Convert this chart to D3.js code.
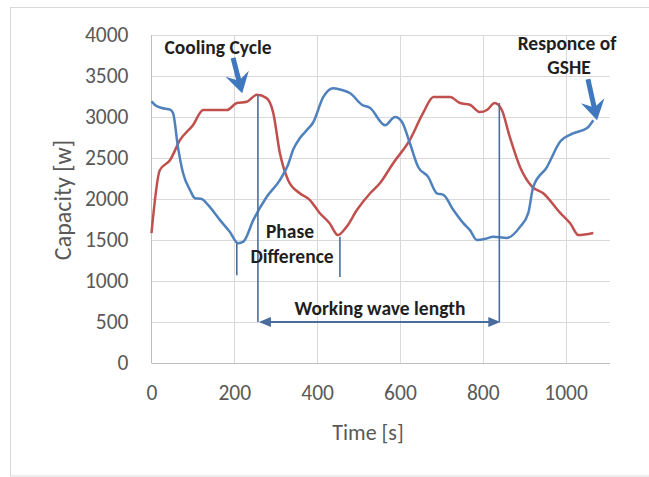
<!DOCTYPE html>
<html><head><meta charset="utf-8">
<script src="https://cdn.jsdelivr.net/npm/d3@7"></script>
<style>
html,body{margin:0;padding:0;background:#fff;}
text{font-family:Carlito,Lato,"Liberation Sans",sans-serif;}
</style></head>
<body><svg id="c" width="649" height="477"></svg>
<script>
// ---- data ----
const blueT = [0,10,25,45,52,64,76,93,105,121,137,165,189,209,222,246,278,310,330,342,358,375,390,415,439,460,480,508,528,564,588,605,624,644,668,689,705,729,753,769,786,810,825,858,890,910,922,955,987,1018,1052,1067];
const blueV = [3190,3140,3110,3090,3050,2630,2320,2110,2010,2000,1925,1745,1600,1460,1480,1745,2025,2230,2420,2600,2740,2840,2930,3245,3350,3330,3290,3150,3110,2900,3000,2940,2680,2390,2270,2070,2050,1865,1705,1620,1500,1520,1540,1525,1660,1830,2150,2390,2700,2800,2865,2960];
const redT = [0,20,45,69,100,125,182,206,230,254,278,294,310,330,358,382,406,430,450,471,496,528,552,584,624,656,681,721,745,769,793,810,829,846,865,890,919,946,987,1011,1031,1067];
const redV = [1585,2350,2475,2720,2900,3085,3085,3170,3185,3270,3230,3050,2560,2230,2070,1990,1830,1705,1560,1660,1865,2070,2195,2440,2720,3050,3245,3245,3170,3150,3060,3085,3170,3085,2760,2390,2150,2070,1830,1705,1560,1585];
const xTicks = [0,200,400,600,800,1000];
const yTicks = [0,500,1000,1500,2000,2500,3000,3500,4000];
const xTitle = "Time [s]";
const yTitle = "Capacity [w]";

const svg = d3.select("#c");
svg.append("rect").attr("x",10.5).attr("y",7.5).attr("width",640).attr("height",468.5)
  .attr("fill","#fff").attr("stroke","#d9d9d9");

const x = d3.scaleLinear([0,1100],[151.5,607]);
const y = d3.scaleLinear([0,4000],[363,35]);

// gridlines
svg.append("g").selectAll("line").data(yTicks.slice(1)).join("line")
  .attr("x1",x(0)).attr("x2",610).attr("y1",d=>Math.round(y(d))+0.5).attr("y2",d=>Math.round(y(d))+0.5)
  .attr("stroke","#d9d9d9").attr("stroke-width",1);
svg.append("g").selectAll("line").data(xTicks.slice(1)).join("line")
  .attr("y1",y(0)).attr("y2",y(4000)).attr("x1",d=>Math.round(x(d))+0.5).attr("x2",d=>Math.round(x(d))+0.5)
  .attr("stroke","#d9d9d9").attr("stroke-width",1);
// axis lines
svg.append("line").attr("x1",x(0)).attr("x2",610).attr("y1",y(0)+0.5).attr("y2",y(0)+0.5).attr("stroke","#bfbfbf");
svg.append("line").attr("x1",x(0)).attr("x2",x(0)).attr("y1",y(0)).attr("y2",y(4000)).attr("stroke","#bfbfbf");

// axes
const ya = svg.append("g").attr("transform",`translate(${x(0)},0)`)
  .call(d3.axisLeft(y).tickValues(yTicks).tickSize(0).tickPadding(23).tickFormat(d3.format("d")));
const xa = svg.append("g").attr("transform",`translate(0,${y(0)})`)
  .call(d3.axisBottom(x).tickValues(xTicks).tickSize(0).tickPadding(22).tickFormat(d3.format("d")));
[ya,xa].forEach(g=>{g.select(".domain").remove();
  g.selectAll("text").attr("fill","#595959").style("font-size","21.5px");});

svg.append("text").attr("x",368).attr("y",432).attr("text-anchor","middle").attr("dominant-baseline","central")
  .attr("fill","#595959").style("font-size","22px").text(xTitle);
svg.append("text").attr("transform","translate(62,200) rotate(-90)").attr("text-anchor","middle").attr("dominant-baseline","central")
  .attr("fill","#595959").style("font-size","24px").text(yTitle);

// series
const line = d3.line().x(d=>x(d[0])).y(d=>y(d[1])).curve(d3.curveMonotoneX);
svg.append("path").datum(redT.map((t,i)=>[t,redV[i]])).attr("d",line)
  .attr("fill","none").attr("stroke","#c0504d").attr("stroke-width",2.5).attr("stroke-linejoin","round");
svg.append("path").datum(blueT.map((t,i)=>[t,blueV[i]])).attr("d",line)
  .attr("fill","none").attr("stroke","#4f81bd").attr("stroke-width",2.5).attr("stroke-linejoin","round");

// annotation lines
const ann = "#4a6d9e";
function vline(t,v0,v1){svg.append("line").attr("x1",x(t)).attr("x2",x(t)).attr("y1",y(v0)).attr("y2",y(v1))
  .attr("stroke",ann).attr("stroke-width",1.6);}
vline(257,3270,500);
vline(840,3170,500);
vline(206,1460,1070);
vline(455,1540,1050);
// horizontal double arrow
const ay = y(500);
svg.append("line").attr("x1",x(257)+6).attr("x2",x(840)-6).attr("y1",ay).attr("y2",ay)
  .attr("stroke",ann).attr("stroke-width",1.8);
function tri(px,py,dir){ // dir -1 left, +1 right
  svg.append("path").attr("d",`M${px},${py} L${px-dir*12},${py-5} L${px-dir*12},${py+5} Z`).attr("fill",ann);}
tri(x(257)+1,ay,-1);
tri(x(840)+1,ay,1);

// thick arrows
function bigArrow(t0,v0,t1,v1){
  const x0=x(t0),y0=y(v0),x1=x(t1),y1=y(v1);
  const dx=x1-x0,dy=y1-y0,L=Math.hypot(dx,dy),ux=dx/L,uy=dy/L,nx=-uy,ny=ux;
  const hl=20,hw=12,back=7;
  const bx=x1-ux*hl,by=y1-uy*hl;
  svg.append("line").attr("x1",x0).attr("y1",y0).attr("x2",x1-ux*10).attr("y2",y1-uy*10)
    .attr("stroke","#3f78bf").attr("stroke-width",5);
  svg.append("path").attr("d",`M${x1},${y1} L${bx+nx*hw},${by+ny*hw} L${x1-ux*(hl-back)},${y1-uy*(hl-back)} L${bx-nx*hw},${by-ny*hw} Z`)
    .attr("fill","#3f78bf");
}
bigArrow(197,3720,219,3290);
bigArrow(1054,3460,1076,2960);

// annotation text
function label(txt,cx,cy){svg.append("text").attr("x",cx).attr("y",cy).attr("text-anchor","middle")
  .attr("dominant-baseline","central").attr("fill","#1f1f1f").style("font-size","19.5px").style("font-weight","bold").text(txt);}
label("Cooling Cycle",218,47);
label("Responce of",567,43);
label("GSHE",569,67);
label("Phase",290,231);
label("Difference",292,256);
label("Working wave length",380,308);
</script></body></html>
